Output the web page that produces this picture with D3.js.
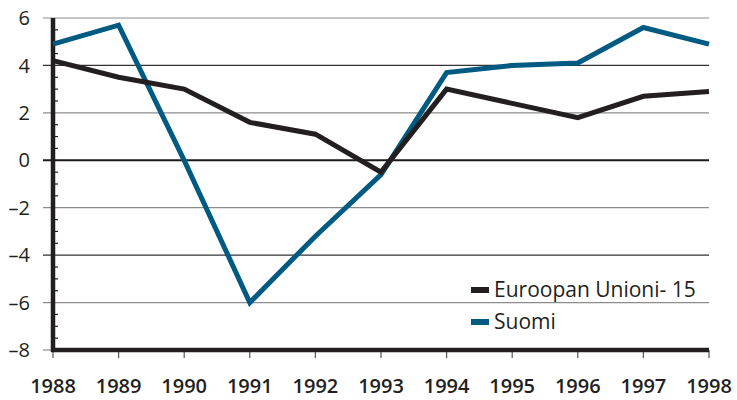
<!DOCTYPE html>
<html><head><meta charset="utf-8">
<script src="https://cdn.jsdelivr.net/npm/d3@7"></script>
<style>body{margin:0;background:#fff}svg{display:block}</style>
</head><body>
<svg id="c" width="737" height="400"></svg>
<script>
const years = [1988,1989,1990,1991,1992,1993,1994,1995,1996,1997,1998];
const eu15 = [4.2,3.5,3.0,1.6,1.1,-0.5,3.0,2.4,1.8,2.7,2.9];
const suomi = [4.9,5.7,0.0,-6.0,-3.2,-0.6,3.7,4.0,4.1,5.6,4.9];
const yTicks = [6,4,2,0,-2,-4,-6,-8];
const seriesNames = ["Euroopan Unioni- 15","Suomi"];
const colors = ["#231f20","#005a82"];

const svg = d3.select("#c");
const x = d3.scaleLinear().domain([1988,1998]).range([53,709]);
const y = d3.scaleLinear().domain([-8,6]).range([350,18]);
const font = "'Open Sans', sans-serif";

// grid lines
const gridColor = v => v===0 ? "#1a1a1a" : (Math.abs(v)===4 ? "#333" : "#8c8c8c");
svg.append("g").selectAll("line").data(yTicks.filter(v=>v!==-8)).join("line")
  .attr("x1",43).attr("x2",709)
  .attr("y1",d=>y(d)).attr("y2",d=>y(d))
  .attr("stroke",gridColor)
  .attr("stroke-width",d=>d===0?2:1.2);

// -8 tick extension
svg.append("line").attr("x1",43).attr("x2",53).attr("y1",y(-8)).attr("y2",y(-8))
  .attr("stroke","#8c8c8c").attr("stroke-width",1.2);

// minor ticks
const minor = d3.range(-7.5,6,0.5).filter(v=>v%2!==0);
svg.append("g").selectAll("line").data(minor).join("line")
  .attr("x1",54).attr("x2",58)
  .attr("y1",d=>y(d)).attr("y2",d=>y(d))
  .attr("stroke","#231f20").attr("stroke-width",1.2);

// x ticks
svg.append("g").selectAll("line").data(years).join("line")
  .attr("x1",d=>x(d)).attr("x2",d=>x(d))
  .attr("y1",350).attr("y2",358)
  .attr("stroke","#555").attr("stroke-width",1.2);

// axes lines
svg.append("line").attr("x1",53).attr("x2",53).attr("y1",y(6)).attr("y2",352)
  .attr("stroke","#231f20").attr("stroke-width",4.5);
svg.append("line").attr("x1",51).attr("x2",709).attr("y1",350).attr("y2",350)
  .attr("stroke","#231f20").attr("stroke-width",4.5);

// y labels
svg.append("g").selectAll("text").data(yTicks).join("text")
  .attr("x",30).attr("y",d=>y(d)).attr("dy","0.36em")
  .attr("text-anchor","end")
  .attr("font-family",font).attr("font-size",20).attr("fill","#231f20")
  .text(d=>d<0?"\u2013"+Math.abs(d):d);

// x labels
svg.append("g").selectAll("text").data(years).join("text")
  .attr("x",d=>x(d)).attr("y",393)
  .attr("text-anchor","middle")
  .attr("font-family",font).attr("font-size",20).attr("font-weight",600).attr("fill","#231f20")
  .text(d=>d);

// lines
const line = d3.line().x((d,i)=>x(years[i])).y(d=>y(d));
[suomi,eu15].forEach((s,k)=>{
  svg.append("path").datum(s).attr("d",line)
    .attr("fill","none").attr("stroke",colors[1-k]).attr("stroke-width",5);
});

// legend
const lg = svg.append("g");
seriesNames.forEach((n,i)=>{
  const yy = 290 + i*32;
  lg.append("rect").attr("x",471).attr("y",yy-3).attr("width",18).attr("height",6).attr("fill",colors[i]);
  lg.append("text").attr("x",494).attr("y",yy+7).attr("font-family",font).attr("font-size",21)
    .attr("fill","#231f20").text(n);
});
</script>
</body></html>
